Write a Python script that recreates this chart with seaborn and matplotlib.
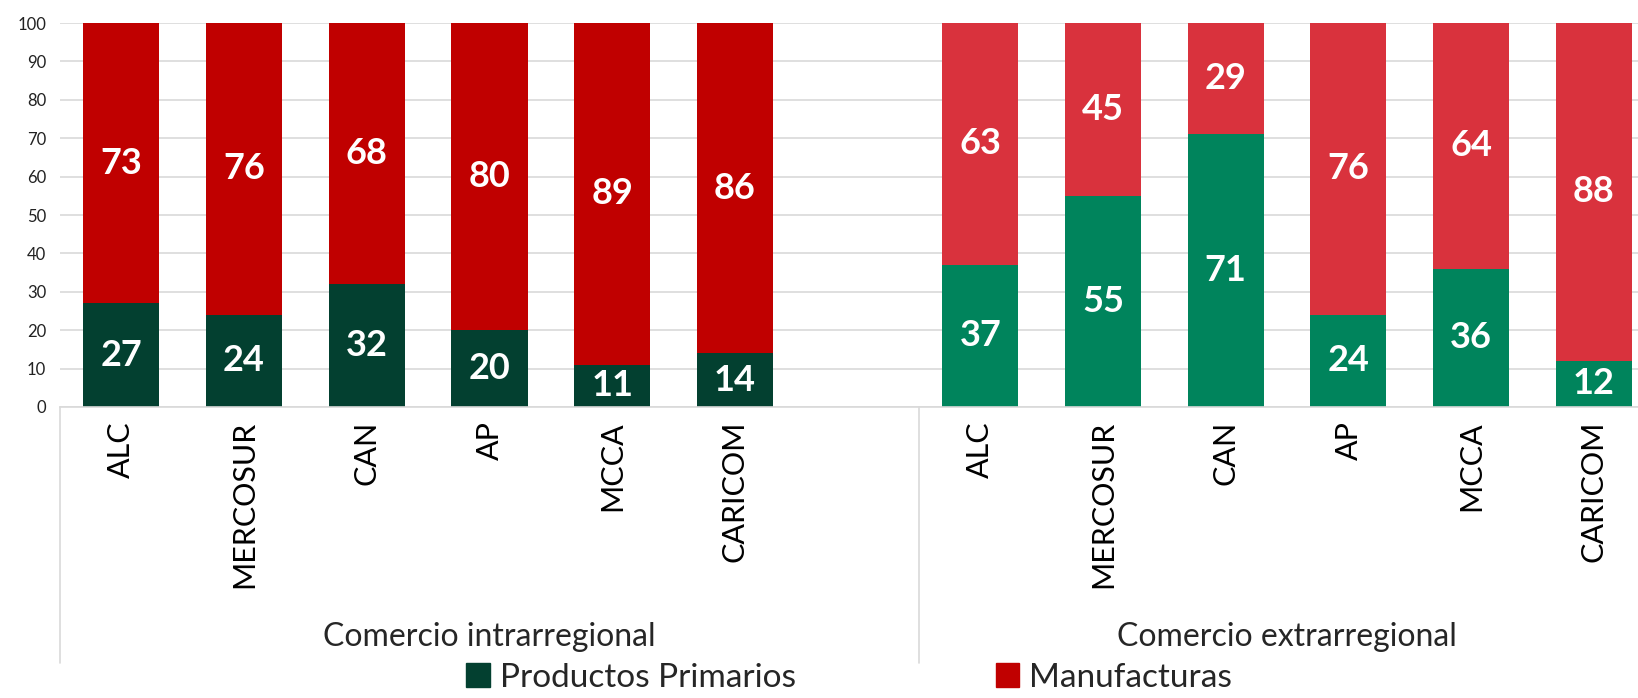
import matplotlib.pyplot as plt
import matplotlib.transforms as mtransforms
from matplotlib.patches import Patch
import pandas as pd
import seaborn as sns

# data (%)
bloques = ["ALC", "MERCOSUR", "CAN", "AP", "MCCA", "CARICOM"]
intra_primarios = [27, 24, 32, 20, 11, 14]
intra_manufacturas = [73, 76, 68, 80, 89, 86]
extra_primarios = [37, 55, 71, 24, 36, 12]
extra_manufacturas = [63, 45, 29, 76, 64, 88]
grupos = ["Comercio intrarregional", "Comercio extrarregional"]

C_PRIM = {"intra": "#034030", "extra": "#00845C"}
C_MANU = {"intra": "#C00000", "extra": "#D9323D"}

sns.set_theme(style="white")
plt.rcParams['font.family'] = ['Lato', 'DejaVu Sans']

rows = []
for g, prim, manu in [("intra", intra_primarios, intra_manufacturas),
                      ("extra", extra_primarios, extra_manufacturas)]:
    for b, p, m in zip(bloques, prim, manu):
        rows.append({"key": f"{g}_{b}", "bloque": b, "grupo": g,
                     "primarios": p, "manufacturas": m, "total": p + m})
df = pd.DataFrame(rows)

# one empty slot between the two groups
order = [f"intra_{b}" for b in bloques] + ["gap"] + [f"extra_{b}" for b in bloques]
ticklabels = bloques + [""] + bloques

fig = plt.figure(figsize=(16.38, 6.98), dpi=100)
ax = fig.add_axes([60 / 1638, 1 - 407 / 698, 1 - 60 / 1638, 384 / 698])

sns.barplot(data=df, x="key", y="total", hue="grupo", order=order,
            palette=C_MANU, dodge=False, width=0.62, legend=False, ax=ax,
            linewidth=0, saturation=1)
sns.barplot(data=df, x="key", y="primarios", hue="grupo", order=order,
            palette=C_PRIM, dodge=False, width=0.62, legend=False, ax=ax,
            linewidth=0, saturation=1)

pos = {k: i for i, k in enumerate(order)}
for _, r in df.iterrows():
    x = pos[r["key"]]
    ax.text(x, r["primarios"] / 2, f"{r['primarios']}", ha="center", va="center",
            color="white", fontsize=26, fontweight="bold")
    ax.text(x, r["primarios"] + r["manufacturas"] / 2, f"{r['manufacturas']}",
            ha="center", va="center", color="white", fontsize=26, fontweight="bold")

ax.set_ylim(0, 100)
ax.set_yticks(range(0, 101, 10))
ax.set_xlim(-0.5, 12.36)
ax.set_xticks(range(len(order)))
ax.set_xticklabels(ticklabels, rotation=90, fontsize=22, color="black")
ax.tick_params(axis="x", length=0, pad=10)
ax.tick_params(axis="y", length=0, pad=10, labelsize=12, labelcolor="#222222")
ax.set_xlabel("")
ax.set_ylabel("")
ax.yaxis.grid(True, color="#D9D9D9", linewidth=1.2)
ax.set_axisbelow(True)
for s in ["top", "right", "left"]:
    ax.spines[s].set_visible(False)
ax.spines["bottom"].set_color("#D9D9D9")
ax.spines["bottom"].set_linewidth(1.2)

# group labels and separators under the axis
trans = mtransforms.blended_transform_factory(ax.transData, ax.transAxes)
for xs in [-0.5, 6.5]:
    ax.plot([xs, xs], [0, -0.667], transform=trans, color="#D9D9D9",
            linewidth=1.2, clip_on=False)
ax.text(3.0, -0.60, grupos[0], transform=trans, ha="center", va="center", fontsize=23)
ax.text(9.5, -0.60, grupos[1], transform=trans, ha="center", va="center", fontsize=23)

handles = [Patch(color=C_PRIM["intra"], label="Productos Primarios"),
           Patch(color=C_MANU["intra"], label="Manufacturas")]
ax.legend(handles=handles, loc="center", bbox_to_anchor=(0.5, -0.705), ncol=2,
          frameon=False, fontsize=24, handlelength=0.7, handleheight=0.7,
          handletextpad=0.3, columnspacing=6,
          borderpad=0.1)

plt.savefig("out.png", dpi=100)
plt.close()
